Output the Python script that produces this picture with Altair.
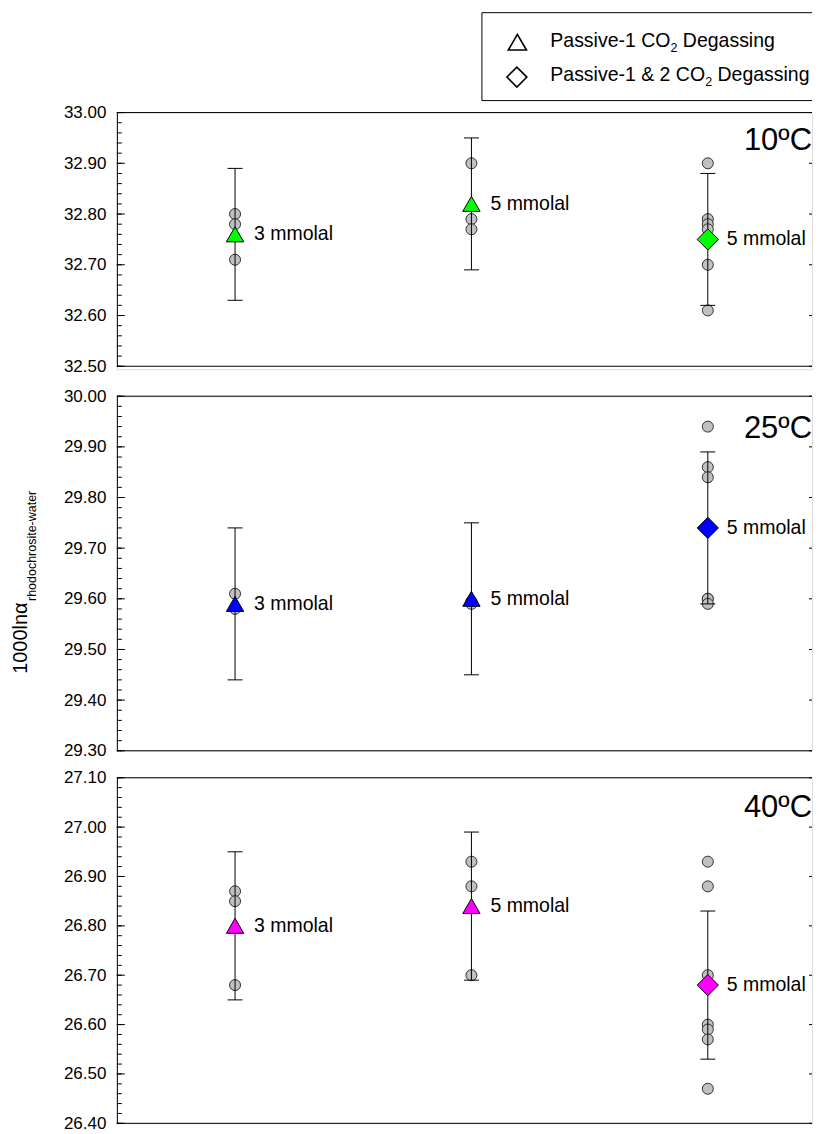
import altair as alt
import pandas as pd
import numpy as np

# ---------------- data ----------------
temps = ["10ºC", "25ºC", "40ºC"]
fill_colors = ["#00FF00", "#0000FF", "#FF00FF"]
columns = [1, 2, 3]
conc_labels = ["3 mmolal", "5 mmolal", "5 mmolal"]

y_domains = [[32.50, 33.00], [29.30, 30.00], [26.40, 27.10]]

mean_10 = [32.76, 32.82, 32.75]
lo_10 = [32.63, 32.69, 32.62]
hi_10 = [32.89, 32.95, 32.88]
rep_10 = [[32.80, 32.78, 32.71],
          [32.90, 32.79, 32.77],
          [32.90, 32.79, 32.78, 32.77, 32.70, 32.61]]

mean_25 = [29.59, 29.60, 29.74]
lo_25 = [29.44, 29.45, 29.59]
hi_25 = [29.74, 29.75, 29.89]
rep_25 = [[29.61, 29.58],
          [29.595, 29.59],
          [29.94, 29.86, 29.84, 29.60, 29.60, 29.59]]

mean_40 = [26.80, 26.84, 26.68]
lo_40 = [26.65, 26.69, 26.53]
hi_40 = [26.95, 26.99, 26.83]
rep_40 = [[26.87, 26.85, 26.68],
          [26.93, 26.88, 26.70],
          [26.93, 26.88, 26.70, 26.60, 26.59, 26.57, 26.47]]

legend_heads = ["Passive-1 CO", "Passive-1 & 2 CO"]
legend_sub = "2"
legend_tail = "Degassing"
y_title = "1000lnα"
y_title_sub = "rhodochrosite-water"

# ---------------- layout ----------------
FONT = "Liberation Sans"
W = 696
PLOT_H = [254, 355, 346]      # height of each framed plot area
VIEW_H = [257, 355, 346]      # view heights (first keeps a small gap below)
TEMP_BASE = [37, 42, 39]      # baseline of the temperature label below the frame top
COL_STEP = 236.67
X_DOMAIN = [0.5, 0.5 + W / COL_STEP]

one = pd.DataFrame({"k": [0]})


def panel(i, means, los, his, reps):
    ph = PLOT_H[i]
    ylo, yhi = y_domains[i]
    yscale = alt.Scale(domain=[ylo, yhi], range=[ph, 0], nice=False, zero=False)
    xscale = alt.Scale(domain=X_DOMAIN, nice=False, zero=False)

    summary = pd.DataFrame({"col": columns, "mean": means, "lo": los,
                            "hi": his, "label": conc_labels})
    points = pd.DataFrame({
        "col": [c for c, r in zip(columns, reps) for _ in r],
        "v": [v for r in reps for v in r],
    })
    major = [float(v) for v in np.round(np.arange(ylo, yhi + 1e-9, 0.1), 2)]
    minor = [float(v) for v in np.round(np.arange(ylo, yhi + 1e-9, 0.02), 2)]
    major_df = pd.DataFrame({"v": major})
    minor_df = pd.DataFrame({"v": minor})

    y_axis = alt.Axis(values=major, format=".2f", title=None, ticks=False,
                      grid=False, domain=True, domainColor="black",
                      domainWidth=1, labelFontSize=17, labelColor="black",
                      labelPadding=11, labelFont=FONT)
    X = alt.X("col:Q", scale=xscale, axis=None)

    def Y(field):
        return alt.Y(field, scale=yscale, axis=y_axis)

    layers = []
    # inward ticks on the left axis
    layers.append(alt.Chart(minor_df).mark_rule(color="black", strokeWidth=1).encode(
        y=Y("v:Q"), x=alt.value(0), x2=alt.value(5)))
    layers.append(alt.Chart(major_df).mark_rule(color="black", strokeWidth=1).encode(
        y=Y("v:Q"), x=alt.value(0), x2=alt.value(8)))
    # inward ticks on the right edge
    layers.append(alt.Chart(major_df).mark_rule(color="black", strokeWidth=1).encode(
        y=Y("v:Q"), x=alt.value(W - 3), x2=alt.value(W)))
    # top / bottom borders
    for d in (yhi, ylo):
        layers.append(alt.Chart(one).mark_rule(color="black", strokeWidth=1).encode(
            y=alt.Y(datum=d, scale=yscale, axis=y_axis),
            x=alt.value(0), x2=alt.value(W)))
    # replicate points
    layers.append(alt.Chart(points).mark_point(
        shape="circle", filled=True, fill="#C0C0C0", stroke="#303030",
        strokeWidth=1, size=121, opacity=1).encode(x=X, y=Y("v:Q")))
    # error bars
    layers.append(alt.Chart(summary).mark_rule(color="black", strokeWidth=1).encode(
        x=X, y=Y("lo:Q"), y2="hi:Q"))
    for f in ("lo", "hi"):
        layers.append(alt.Chart(summary).mark_tick(
            orient="horizontal", size=15, thickness=1, color="black", opacity=1).encode(
            x=X, y=Y(f"{f}:Q")))
    # mean markers
    layers.append(alt.Chart(summary).transform_filter(alt.datum.col < 3).mark_point(
        shape="triangle-up", filled=True, fill=fill_colors[i], stroke="black",
        strokeWidth=1, size=300, opacity=1).encode(x=X, y=Y("mean:Q")))
    layers.append(alt.Chart(summary).transform_filter(alt.datum.col == 3).mark_point(
        shape="diamond", filled=True, fill=fill_colors[i], stroke="black",
        strokeWidth=1, size=450, opacity=1).encode(x=X, y=Y("mean:Q")))
    # concentration labels
    layers.append(alt.Chart(summary).mark_text(
        align="left", baseline="middle", dx=19, fontSize=19.5, font=FONT,
        color="black").encode(x=X, y=Y("mean:Q"), text="label:N"))
    # temperature label
    layers.append(alt.Chart(one).mark_text(
        align="right", baseline="alphabetic", fontSize=31, font=FONT,
        color="black").encode(
        x=alt.value(696), y=alt.value(TEMP_BASE[i]), text=alt.value(temps[i])))

    if i == 0:
        # legend box (open on the right, like the clipped original)
        for yy in (-100, -12):
            layers.append(alt.Chart(one).mark_rule(color="black", strokeWidth=1).encode(
                x=alt.value(365.5), x2=alt.value(W), y=alt.value(yy)))
        layers.append(alt.Chart(one).mark_rule(color="black", strokeWidth=1).encode(
            x=alt.value(365.5), y=alt.value(-100), y2=alt.value(-12)))
        layers.append(alt.Chart(one).mark_point(
            shape="triangle-up", filled=False, stroke="black", strokeWidth=1.6,
            size=330, opacity=1).encode(x=alt.value(401), y=alt.value(-70.5)))
        layers.append(alt.Chart(one).mark_point(
            shape="diamond", filled=False, stroke="black", strokeWidth=1.6,
            size=400, opacity=1).encode(x=alt.value(400.5), y=alt.value(-35.5)))
        rows = [(-65.3, 434, 554.3, 566.7), (-32, 434, 589.0, 601.4)]
        for (yy, xh, xs, xt), head in zip(rows, legend_heads):
            layers.append(alt.Chart(one).mark_text(
                align="left", baseline="alphabetic", fontSize=19.5, font=FONT,
                color="black").encode(x=alt.value(xh), y=alt.value(yy),
                                      text=alt.value(head)))
            layers.append(alt.Chart(one).mark_text(
                align="left", baseline="alphabetic", fontSize=12.5, font=FONT,
                color="black").encode(x=alt.value(xs), y=alt.value(yy + 5),
                                      text=alt.value(legend_sub)))
            layers.append(alt.Chart(one).mark_text(
                align="left", baseline="alphabetic", fontSize=19.5, font=FONT,
                color="black").encode(x=alt.value(xt), y=alt.value(yy),
                                      text=alt.value(legend_tail)))
    if i == 1:
        layers.append(alt.Chart(one).mark_text(
            align="left", baseline="alphabetic", angle=270, fontSize=20,
            font=FONT, color="black").encode(
            x=alt.value(-90), y=alt.value(278), text=alt.value(y_title)))
        layers.append(alt.Chart(one).mark_text(
            align="left", baseline="alphabetic", angle=270, fontSize=12.5,
            font=FONT, color="black").encode(
            x=alt.value(-81), y=alt.value(205), text=alt.value(y_title_sub)))

    return alt.layer(*layers).properties(width=W, height=VIEW_H[i])


p0 = panel(0, mean_10, lo_10, hi_10, rep_10)
p1 = panel(1, mean_25, lo_25, hi_25, rep_25)
p2 = panel(2, mean_40, lo_40, hi_40, rep_40)

chart = alt.vconcat(p0, p1, p2, spacing=27, bounds="flush").properties(
    padding={"left": 2, "top": 3, "right": 0, "bottom": 0},
).configure_view(stroke=None).configure(font=FONT, background="white")

chart.save("out.html", embed_options={"renderer": "svg", "actions": False})
